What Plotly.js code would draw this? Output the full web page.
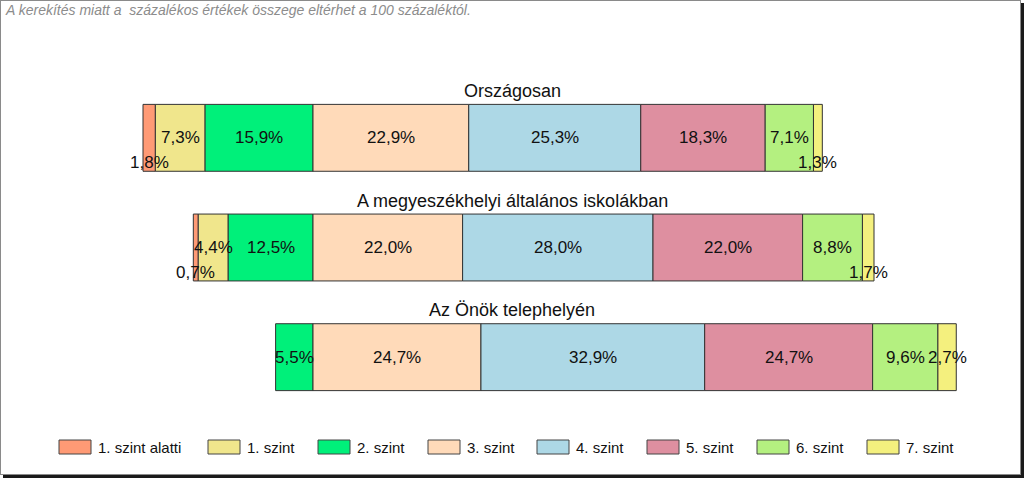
<!DOCTYPE html>
<html>
<head>
<meta charset="utf-8">
<script src="https://cdn.plot.ly/plotly-3.0.1.min.js"></script>
<style>
  html, body { margin: 0; padding: 0; background: #ffffff; }
  #frame { position: absolute; left: 0; top: 0; width: 1021px; height: 475px; box-sizing: border-box;
           border: 1px solid #8a8a8a; box-shadow: 3px 3px 0 #1a1a1a; background: #fff; }
  #chart { width: 1019px; height: 473px; }
</style>
</head>
<body>
<div id="frame"><div id="chart"></div></div>
<script>
// ---- data ----
const categories = ['Országosan', 'A megyeszékhelyi általános iskolákban', 'Az Önök telephelyén'];
const levels = ['1. szint alatti', '1. szint', '2. szint', '3. szint', '4. szint', '5. szint', '6. szint', '7. szint'];
const lvlBelow1 = [1.8, 0.7, null];
const lvl1 = [7.3, 4.4, null];
const lvl2 = [15.9, 12.5, 5.5];
const lvl3 = [22.9, 22.0, 24.7];
const lvl4 = [25.3, 28.0, 32.9];
const lvl5 = [18.3, 22.0, 24.7];
const lvl6 = [7.1, 8.8, 9.6];
const lvl7 = [1.3, 1.7, 2.7];
const note = 'A kerekítés miatt a  százalékos értékek összege eltérhet a 100 százaléktól.';

// ---- styles ----
const colors = ['#FF9A75', '#F0E68C', '#00F07A', '#FFDAB9', '#ADD8E6', '#DE8FA0', '#B4F080', '#F4F07E'];
const FONT = '"Liberation Sans", Arial, sans-serif';

const series = [lvlBelow1, lvl1, lvl2, lvl3, lvl4, lvl5, lvl6, lvl7];
const nNeg = 3; // first three levels drawn to the left of zero

const fmt = v => v.toFixed(1).replace('.', ',') + '%';

const traces = [];
// negative side: nearest to zero first
for (let i = nNeg - 1; i >= 0; i--) {
  traces.push({
    type: 'bar', orientation: 'h', name: levels[i],
    y: categories, x: series[i].map(v => v == null ? null : -v),
    width: 0.61,
    marker: { color: colors[i], line: { color: '#333', width: 1 } },
    hoverinfo: 'skip', showlegend: false
  });
}
for (let i = nNeg; i < levels.length; i++) {
  traces.push({
    type: 'bar', orientation: 'h', name: levels[i],
    y: categories, x: series[i],
    width: 0.61,
    marker: { color: colors[i], line: { color: '#333', width: 1 } },
    hoverinfo: 'skip', showlegend: false
  });
}

const annotations = [];
const labelFont = { family: FONT, size: 17, color: '#111' };
// segment labels
categories.forEach((cat, c) => {
  // negative side
  let acc = 0;
  for (let i = nNeg - 1; i >= 0; i--) {
    const v = series[i][c];
    if (v == null) continue;
    const center = -(acc + v / 2);
    acc += v;
    annotations.push({ x: center, y: cat, xref: 'x', yref: 'y', text: fmt(v), showarrow: false,
      yshift: v < 2 ? -25 : 0, font: labelFont });
  }
  acc = 0;
  for (let i = nNeg; i < levels.length; i++) {
    const v = series[i][c];
    if (v == null) continue;
    const center = acc + v / 2;
    acc += v;
    annotations.push({ x: center, y: cat, xref: 'x', yref: 'y', text: fmt(v), showarrow: false,
      yshift: v < 2 ? -25 : 0, font: labelFont });
  }
  // category title above bar
  annotations.push({ x: 511 / 1019, y: cat, xref: 'paper', yref: 'y', text: cat, showarrow: false,
    yshift: 47, xanchor: 'center', font: { family: FONT, size: 18, color: '#111' } });
});

// note
annotations.push({ x: 2 / 1019, y: (411 - 9) / 329, xref: 'paper', yref: 'paper', text: note,
  showarrow: false, xanchor: 'left', yanchor: 'middle',
  font: { family: FONT, size: 14, color: '#8c8c8c', style: 'italic' } });

// custom legend
const shapes = [];
const swatchX = [58, 207, 317, 427, 536, 646, 756, 866];
const sy0 = (411 - 439) / 329, sy1 = (411 - 453) / 329;
levels.forEach((lv, i) => {
  shapes.push({ type: 'rect', xref: 'paper', yref: 'paper',
    x0: swatchX[i] / 1019, x1: (swatchX[i] + 32) / 1019, y0: sy1, y1: sy0,
    fillcolor: colors[i], line: { color: '#444', width: 1 } });
  annotations.push({ x: (swatchX[i] + 37) / 1019, y: (sy0 + sy1) / 2, xref: 'paper', yref: 'paper',
    text: lv, showarrow: false, xanchor: 'left', yanchor: 'middle',
    font: { family: FONT, size: 15, color: '#111' } });
});

const layout = {
  width: 1019, height: 473,
  margin: { l: 0, r: 0, t: 82, b: 62, pad: 0 },
  paper_bgcolor: '#fff', plot_bgcolor: '#fff',
  barmode: 'relative',
  showlegend: false,
  xaxis: { range: [-312 / 6.8, (1019 - 312) / 6.8], showgrid: false, zeroline: false,
           showticklabels: false, showline: false, fixedrange: true },
  yaxis: { type: 'category', range: [2.5, -0.5], showgrid: false, zeroline: false,
           showticklabels: false, showline: false, fixedrange: true },
  annotations: annotations,
  shapes: shapes,
  font: { family: FONT }
};

Plotly.newPlot('chart', traces, layout, { displayModeBar: false, staticPlot: true });
</script>
</body>
</html>
